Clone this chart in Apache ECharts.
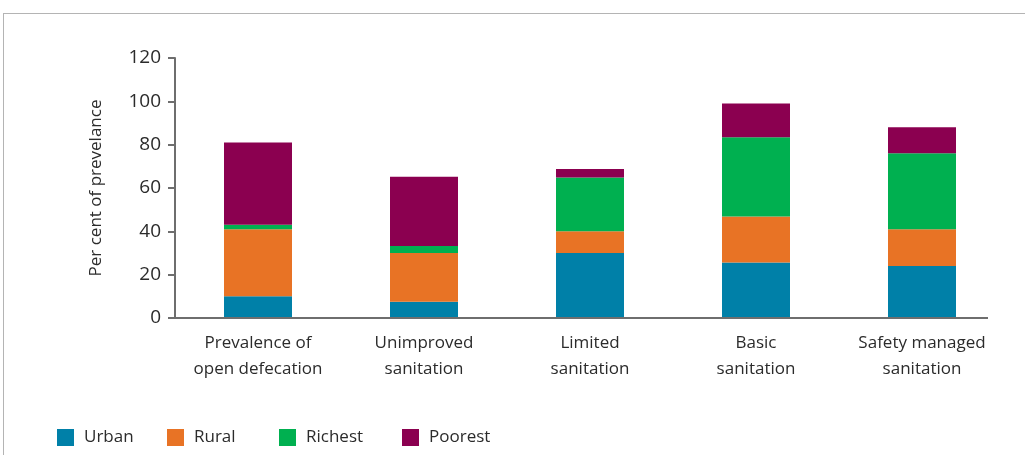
<!DOCTYPE html>
<html>
<head>
<meta charset="utf-8">
<script src="https://cdn.jsdelivr.net/npm/echarts@6/dist/echarts.min.js"></script>
<style>
  html, body { margin: 0; padding: 0; background: #fff; }
  #frame { position: absolute; left: 3px; top: 13px; width: 1030px; height: 450px;
           border-top: 1.5px solid #b4b4b4; border-left: 1.5px solid #b4b4b4; }
  #chart { position: absolute; left: 0; top: 0; width: 1025px; height: 455px; }
</style>
</head>
<body>
<div id="frame"></div>
<div id="chart"></div>
<script>
// Sanitation indicators, stacked by group (per cent)
const categories = [
  'Prevalence of\nopen defecation',
  'Unimproved\nsanitation',
  'Limited\nsanitation',
  'Basic\nsanitation',
  'Safety managed\nsanitation'
];
const urban   = [10, 7.5, 30, 25.6, 24];
const rural   = [31, 22.5, 10, 21.2, 17];
const richest = [2, 3.2, 24.8, 36.6, 35];
const poorest = [38, 32, 4, 15.6, 12];
const yTicks = [0, 20, 40, 60, 80, 100, 120];

const seriesNames = ['Urban', 'Rural', 'Richest', 'Poorest'];
const seriesData = [urban, rural, richest, poorest];
const colors = ['#0080a8', '#e87325', '#00b050', '#8b0050'];

const FONT = '"Open Sans", "Noto Sans", sans-serif';
const TEXT = '#2b2b2b';
const AXIS = '#6e6e6e';

const chart = echarts.init(document.getElementById('chart'), null, { renderer: 'canvas' });

const legendLefts = [57, 167, 279, 402];
const legends = seriesNames.map((name, i) => ({
  data: [name],
  left: legendLefts[i],
  top: 429,
  itemWidth: 17,
  itemHeight: 17,
  itemGap: 0,
  icon: 'rect',
  padding: 0,
  textStyle: { fontFamily: FONT, fontSize: 17, color: TEXT, padding: [0, 0, 0, 5] }
}));

chart.setOption({
  animation: false,
  color: colors,
  legend: legends,
  grid: { left: 175, right: 20, top: 58, bottom: 137 },
  xAxis: {
    type: 'category',
    data: categories,
    axisLine: { show: false },
    axisTick: { show: false },
    axisLabel: { interval: 0, hideOverlap: false, fontFamily: FONT, fontSize: 17, color: TEXT, lineHeight: 26, margin: 12 }
  },
  yAxis: {
    type: 'value',
    min: yTicks[0],
    max: yTicks[yTicks.length - 1],
    interval: yTicks[1] - yTicks[0],
    name: 'Per cent of prevelance',
    nameLocation: 'middle',
    nameGap: 70,
    nameTextStyle: { fontFamily: FONT, fontSize: 17, color: TEXT },
    axisLine: { show: true, lineStyle: { color: AXIS, width: 2 } },
    axisTick: { show: true, length: 7, lineStyle: { color: AXIS, width: 2 } },
    splitLine: { show: false },
    axisLabel: { fontFamily: FONT, fontSize: 19, color: TEXT, margin: 14 }
  },
  series: seriesNames.map((name, i) => ({
    name: name,
    type: 'bar',
    stack: 'total',
    barWidth: 68,
    data: seriesData[i],
    itemStyle: { color: colors[i] }
  }))
});

// Baseline along y = 0, stopping a little short of the plot's right edge
const base = chart.convertToPixel({ yAxisIndex: 0 }, 0);
chart.setOption({
  graphic: [{
    type: 'line',
    z: 10,
    shape: { x1: 168, y1: base, x2: 988, y2: base },
    style: { stroke: AXIS, lineWidth: 2 }
  }]
});
</script>
</body>
</html>
